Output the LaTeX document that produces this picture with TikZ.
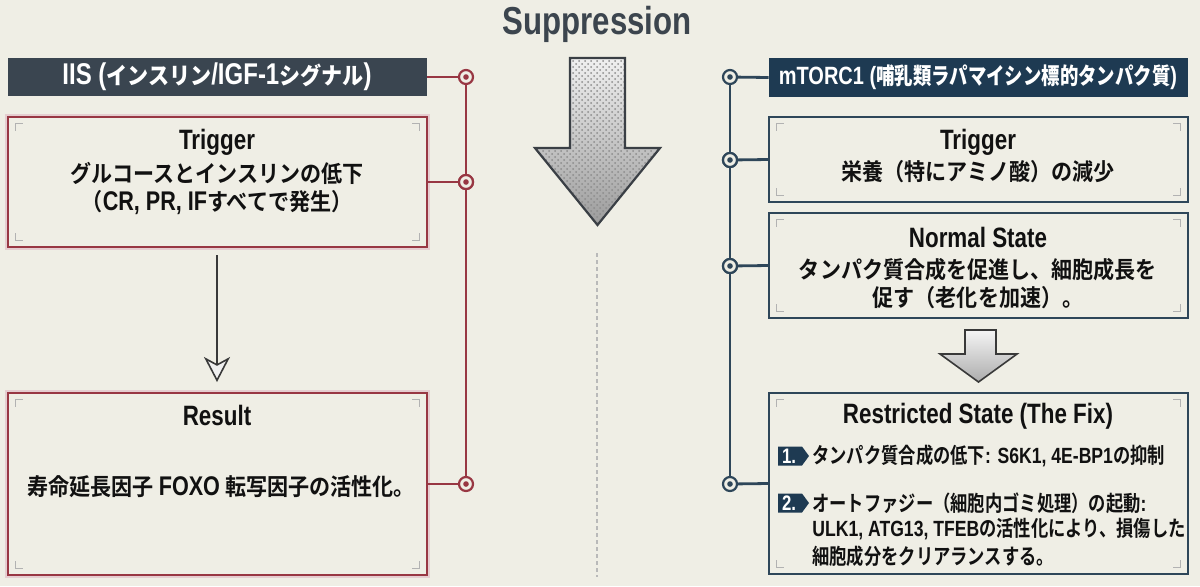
\documentclass[tikz,border=0pt]{standalone}
\usepackage{fontspec}
\setmainfont{Liberation Sans}
\newfontfamily\jpf{Noto Sans CJK JP Bold}[FakeStretch=0.9]
\newfontfamily\jpn{Noto Sans CJK JP Bold}[FakeStretch=0.8]
\newfontfamily\ltf{Liberation Sans}[FakeStretch=0.8]
\usetikzlibrary{arrows.meta,patterns}
\definecolor{bgc}{HTML}{EFEEE5}
\definecolor{redc}{HTML}{983743}
\definecolor{navc}{HTML}{2E4659}
\definecolor{hdl}{HTML}{3A4550}
\definecolor{hdr}{HTML}{1E3A52}
\definecolor{txc}{HTML}{111111}
\definecolor{ttc}{HTML}{3C454E}
\definecolor{arrc}{HTML}{3A3F45}
\newcommand\LTs[2]{{\ltf\bfseries\fontsize{#1}{#1}\selectfont #2}}
\newcommand\corners[1]{%
  \draw[brk] ([shift={(9,15)}]#1.north west) -- ++(0,-7) -- ++(7,0);
  \draw[brk] ([shift={(-16,8)}]#1.north east) -- ++(7,0) -- ++(0,7);
  \draw[brk] ([shift={(9,-15)}]#1.south west) -- ++(0,7) -- ++(7,0);
  \draw[brk] ([shift={(-16,-8)}]#1.south east) -- ++(7,0) -- ++(0,-7);}
\newcommand\badge[3]{%
  \fill[hdr] (778,#2-9.5) -- (802,#2-9.5) -- (809,#2) -- (802,#2+9.5) -- (778,#2+9.5) -- cycle;
  \node[text=white, font=\ltf\bfseries\fontsize{10.5}{10.5}\selectfont, inner sep=0pt] (#1) at (789,#2) {#3};}
\tikzset{
  box/.style={draw, line width=1.1pt, fill=bgc, inner sep=0pt, minimum width=209.5pt},
  lbox/.style={box, draw=redc, preaction={draw=redc!25, line width=2.6pt}},
  rbox/.style={box, draw=navc},
  hbar/.style={fill=#1, inner sep=0pt, minimum width=209.5pt, minimum height=19pt},
  dotc/.style={circle, draw=#1, line width=1.1pt, fill=bgc, minimum size=7pt, inner sep=0pt,
    path picture={\fill[#1] (path picture bounding box.center) circle[radius=1.4pt];}},
  redline/.style={draw=redc, line width=1.4pt},
  navline/.style={draw=navc, line width=1.4pt},
  brk/.style={draw=gray!60, line width=0.5pt},
  ttl/.style={font=\ltf\bfseries\fontsize{14}{14}\selectfont, text=txc, inner sep=0pt},
  jtx/.style={font=\jpf\fontsize{11.7}{12}\selectfont, text=txc, inner sep=0pt},
  jtn/.style={font=\jpn\fontsize{10.8}{11}\selectfont, text=txc, inner sep=0pt, anchor=west},
}
\begin{document}
\begin{tikzpicture}[x=0.5pt,y=-0.5pt]
\fill[bgc] (0,0) rectangle (1200,586);
\useasboundingbox (0,0) rectangle (1200,586);

% title
\node[font=\ltf\bfseries\fontsize{19.5}{20}\selectfont, text=ttc, inner sep=0pt] (ttl) at (597,24) {Suppression};

% big arrow
\draw[preaction={top color=gray!12, middle color=gray!55, bottom color=gray!78}, pattern=crosshatch dots, pattern color=black!45,
  draw=arrc, line width=1.1pt, line join=miter]
  (570,58) -- (625,58) -- (625,148) -- (660,148) -- (597.5,225) -- (535,148) -- (570,148) -- cycle;

% dashed divider
\coordinate (d1) at (597,253);
\coordinate (d2) at (597,577);
\draw[gray!55, line width=0.6pt, dash pattern=on 2pt off 1.5pt] (d1) -- (d2);

% ---------- left column ----------
\node[hbar=hdl] (h1) at (217,77) {};
\node[lbox, minimum height=65pt] (t1) at (217.5,182) {};
\node[lbox, minimum height=91pt] (r1) at (217.5,484) {};
\corners{t1}
\corners{r1}

\node[dotc=redc] (c1) at (466,77) {};
\node[dotc=redc] (c2) at (466,182) {};
\node[dotc=redc] (c3) at (466,484) {};
\draw[redline] (c1) -- (c3);
\draw[redline] (h1.east) -- (c1);
\draw[redline] (t1.east) -- (c2);
\draw[redline] (r1.east) -- (c3);
\node[dotc=redc] (c2b) at (c2) {};

\node[text=white, inner sep=0pt, font=\ltf\bfseries\fontsize{15}{15}\selectfont] (h1t) at (217,77)
  {IIS (\jpf\fontsize{11.7}{12}\selectfont インスリン\ltf\fontsize{15}{15}\selectfont/IGF-1\jpf\fontsize{11.7}{12}\selectfont シグナル\ltf\fontsize{15}{15}\selectfont)};
\node[ttl] (t1a) at (217,142) {Trigger};
\node[jtx] (t1b) at (217,173) {グルコースとインスリンの低下};
\node[jtx] (t1c) at (217,203) {（\LTs{13.5}{CR, PR, IF}すべてで発生）};

\coordinate (as) at (217,255);
\coordinate (ae) at (217,382);
\draw[draw=gray!45!black, line width=0.8pt,
  -{Stealth[length=12.5pt,width=13pt,inset=3.5pt,fill=gray!12]}] (as) -- (ae);

\node[ttl] (r1a) at (217,415) {Result};
\node[jtx] (r1b) at (221,487) {寿命延長因子\hspace{2.5pt}\LTs{13.5}{FOXO}\hspace{2.5pt}転写因子の活性化。};

% ---------- right column ----------
\node[hbar=hdr, minimum height=19.5pt] (h2) at (978.5,77.5) {};
\node[rbox, minimum height=42.5pt] (t2) at (978.5,159.5) {};
\node[rbox, minimum height=52.5pt] (n2) at (978.5,265.5) {};
\node[rbox, minimum height=90.5pt] (s2) at (978.5,483.5) {};
\corners{t2}
\corners{n2}
\corners{s2}

\node[dotc=navc] (e1) at (730,77) {};
\node[dotc=navc] (e2) at (730,160) {};
\node[dotc=navc] (e3) at (730,266) {};
\node[dotc=navc] (e4) at (730,484) {};
\draw[navline] (e1) -- (e4);
\draw[navline] (h2.west) -- (e1);
\draw[navline] (t2.west) -- (e2);
\draw[navline] (n2.west) -- (e3);
\draw[navline] (s2.west) -- (e4);
\node[dotc=navc] (e2b) at (e2) {};
\node[dotc=navc] (e3b) at (e3) {};

\node[text=white, inner sep=0pt, font=\ltf\bfseries\fontsize{12.5}{12.5}\selectfont] (h2t) at (978,77.5)
  {mTORC1 (\jpn\fontsize{11.5}{12}\selectfont 哺乳類ラパマイシン標的タンパク質\ltf\fontsize{12.5}{12.5}\selectfont)};

\node[ttl] (t2a) at (978,142) {Trigger};
\node[jtx] (t2b) at (978,172) {栄養（特にアミノ酸）の減少};

\node[ttl] (n2a) at (978,237) {Normal State};
\node[jtx] (n2b) at (978,270) {タンパク質合成を促進し、細胞成長を};
\node[jtx] (n2c) at (978,298) {促す（老化を加速）。};

% small block arrow
\draw[preaction={top color=gray!8, bottom color=gray!65}, draw=gray!45!black, line width=0.8pt, line join=miter]
  (965,330) -- (996,330) -- (996,354) -- (1017,354) -- (978.5,382) -- (940,354) -- (965,354) -- cycle;

\node[ttl] (s2a) at (978,416) {Restricted State (The Fix)};
\badge{b1}{456}{1.}
\badge{b2}{503}{2.}
\node[jtn] (s2b) at (812,456) {タンパク質合成の低下\LTs{11}{: S6K1, 4E-BP1}の抑制};
\node[jtn] (s2c) at (812,503) {オートファジー（細胞内ゴミ処理）の起動\LTs{11}{:}};
\node[jtn] (s2d) at (812,529) {\LTs{11}{ULK1, ATG13, TFEB}の活性化により、損傷した};
\node[jtn] (s2e) at (812,556) {細胞成分をクリアランスする。};
\end{tikzpicture}
\end{document}
